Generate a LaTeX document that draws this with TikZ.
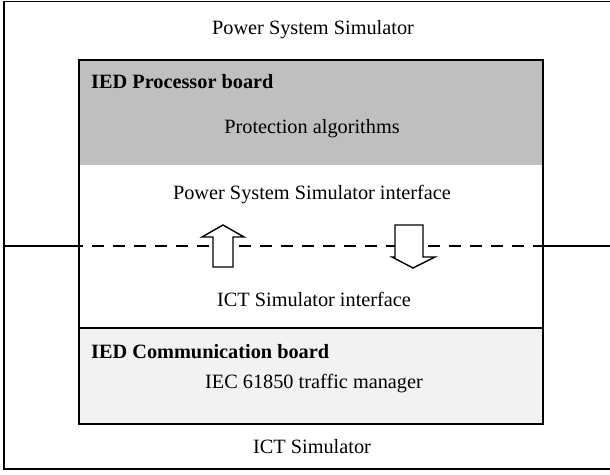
\documentclass[tikz,border=0pt]{standalone}
\usepackage{fontspec}
\setmainfont{Liberation Serif}
\usetikzlibrary{positioning}

\begin{document}
\begin{tikzpicture}[
  x=1pt, y=-1pt,
  font=\fontsize{20.3}{24}\selectfont,
  frame/.style={draw, line width=1.4pt},
  board/.style={draw, line width=1.8pt},
  title/.style={font=\fontsize{20.3}{24}\selectfont\bfseries, anchor=west, inner sep=0pt},
  flow/.style={draw, line width=1.4pt, fill=white}]

  \useasboundingbox (0,0) rectangle (610,474);
  \clip (0,0) rectangle (610,474);

  \draw[frame] (4,1.5) rectangle (620,246);
  \draw[frame] (4,246) rectangle (620,469);

  \fill[white] (79,60) rectangle (543,424);
  \fill[black!25] (79,60) rectangle (543,165);
  \fill[black!5] (79,328) rectangle (543,424);
  \draw[line width=1.4pt] (79,328) -- (543,328);
  \draw[line width=1.4pt, dash pattern=on 12pt off 9pt, dash phase=8pt] (79,246) -- (543,246);
  \draw[board] (79,60) rectangle (543,424);

  \draw[flow] (223,225) -- (244,237) -- (233,237) -- (233,267) -- (213,267)
    -- (213,237) -- (202,237) -- cycle;
  \draw[flow] (413,268) -- (435,257) -- (423,257) -- (423,225) -- (395,225)
    -- (395,257) -- (392,257) -- cycle;

  \node (psim) at (313,30) {Power System Simulator};
  \node[title] (proc) at (91,82) {IED Processor board};
  \node (algo) at (312,129) {Protection algorithms};
  \node (psimif) at (312,195) {Power System Simulator interface};
  \node (ictif) at (314,299) {ICT Simulator interface};
  \node[title] (comm) at (91,352) {IED Communication board};
  \node (iec) at (314,384) {IEC 61850 traffic manager};
  \node (ict) at (312,447) {ICT Simulator};
\end{tikzpicture}
\end{document}
